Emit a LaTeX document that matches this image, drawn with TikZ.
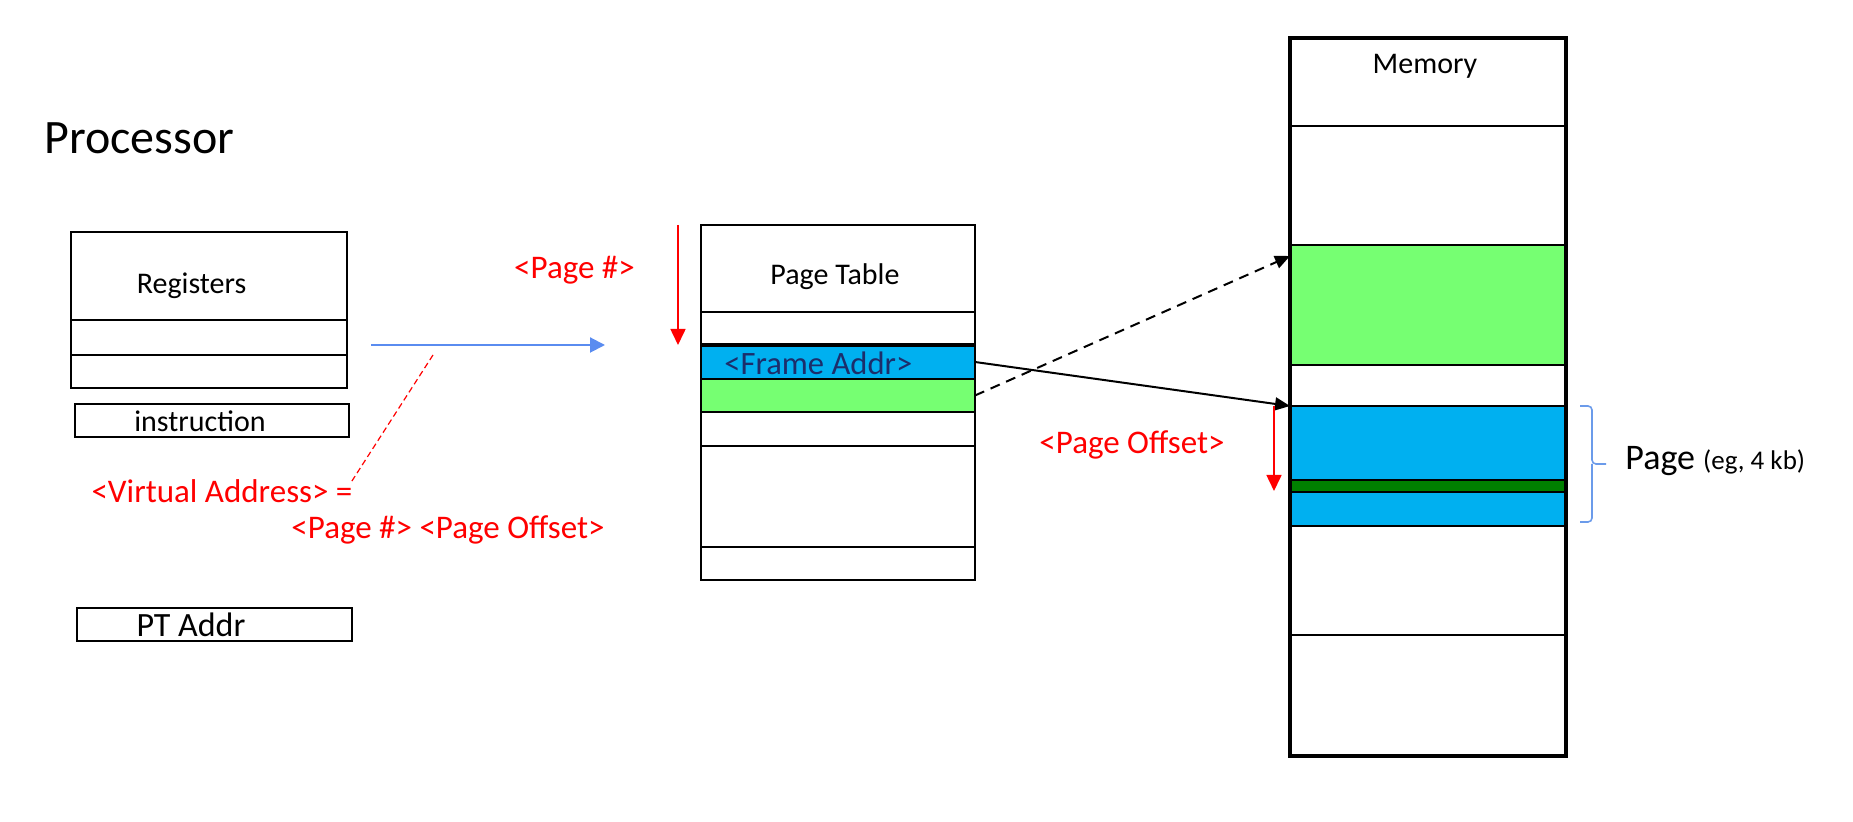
\documentclass[tikz,border=0pt]{standalone}
\usepackage{fontspec}
\setmainfont{Carlito}
\usetikzlibrary{arrows.meta}
\definecolor{cellgreen}{HTML}{76FF72}
\definecolor{cellblue}{HTML}{00B0F0}
\definecolor{darkband}{HTML}{008000}
\definecolor{navytext}{HTML}{1C2E6B}
\definecolor{flowblue}{HTML}{5A8CF0}
\definecolor{braceblue}{HTML}{6B9BEA}
\definecolor{hotred}{HTML}{FF0000}
\begin{document}
\begin{tikzpicture}[x=0.5pt,y=-0.5pt,
  cell/.style={draw, line width=1.4pt, inner sep=0pt, outer sep=0pt},
  lbl/.style={inner sep=0pt, font=\fontsize{15}{18}\selectfont},
  redlbl/.style={inner sep=0pt, font=\fontsize{16.5}{20}\selectfont, text=hotred},
  redarrow/.style={draw=hotred, line width=0.8pt, -{Triangle[length=8pt,width=7.5pt]}},
  linkarrow/.style={line width=1pt, -{Triangle[length=7.5pt,width=6.5pt]}}]
\useasboundingbox (0,0) rectangle (1853,822);

% processor side
\node[inner sep=0pt, anchor=west, font=\fontsize{24}{28}\selectfont] (proc) at (44,138) {Processor};

\node[cell, minimum width=138pt, minimum height=44pt]   (reg0) at (209,276) {};
\node[cell, minimum width=138pt, minimum height=17.5pt] (reg1) at (209,337.5) {};
\node[cell, minimum width=138pt, minimum height=16.5pt] (reg2) at (209,371.5) {};
\node[lbl] (regtxt) at (191.5,286) {Registers};

\node[cell, minimum width=137pt, minimum height=16.5pt] (instr) at (212,420.5) {};
\node[lbl] (instrtxt) at (200,421) {instruction};

\node[cell, minimum width=137.5pt, minimum height=16.5pt] (ptaddr) at (214.5,624.5) {};
\node[lbl, font=\fontsize{17}{20}\selectfont] (ptaddrtxt) at (191,625) {PT Addr};

% virtual address
\coordinate (vastart) at (371,345);
\coordinate (vaend) at (605,345);
\draw[flowblue, line width=1pt, -{Triangle[length=7.5pt,width=7.5pt]}] (vastart) -- (vaend);
\coordinate (vaknee) at (433,355);
\node[redlbl] (vatxt) at (222,491) {<Virtual Address> =};
\node[redlbl] (vasplit) at (448,530) {<Page \#> <Page Offset>};
\draw[hotred, line width=0.6pt, dash pattern=on 3pt off 1.8pt] (vaknee) -- (350,484);

% page table
\node[cell, minimum width=137pt, minimum height=43.5pt] (pt0) at (838,268.5) {};
\node[cell, minimum width=137pt, minimum height=16.5pt] (pt1) at (838,328.5) {};
\node[cell, fill=cellblue, minimum width=137pt, minimum height=17pt] (ptf) at (838,362) {};
\node[cell, fill=cellgreen, minimum width=137pt, minimum height=16.5pt] (ptg) at (838,395.5) {};
\node[cell, minimum width=137pt, minimum height=17pt] (pt4) at (838,429) {};
\node[cell, minimum width=137pt, minimum height=50.5pt] (pt5) at (838,496.5) {};
\node[cell, minimum width=137pt, minimum height=16.5pt] (pt6) at (838,563.5) {};
\draw[line width=2.2pt] (ptf.north west) -- (ptf.north east);
\node[lbl] (pttxt) at (835,277) {Page Table};
\node[lbl, anchor=west, text=navytext, font=\fontsize{16.3}{20}\selectfont] (frametxt) at (724,363) {<Frame Addr>};

\node[redlbl] (pagenum) at (574.5,270) {<Page \#>};
\coordinate (pnstart) at (678,225);
\coordinate (pnend) at (678,345);
\draw[redarrow] (pnstart) -- (pnend);

% memory
\node[cell, minimum width=138pt, minimum height=44pt]   (m0) at (1428,82) {};
\node[cell, minimum width=138pt, minimum height=59.5pt] (m1) at (1428,185.5) {};
\node[cell, fill=cellgreen, minimum width=138pt, minimum height=60pt] (m2) at (1428,305) {};
\node[cell, minimum width=138pt, minimum height=20.5pt] (m3) at (1428,385.5) {};
\node[cell, fill=cellblue, minimum width=138pt, minimum height=37pt] (m4) at (1428,443) {};
\node[cell, fill=darkband, minimum width=138pt, minimum height=6pt] (m5) at (1428,486) {};
\node[cell, fill=cellblue, minimum width=138pt, minimum height=17pt] (m6) at (1428,509) {};
\node[cell, minimum width=138pt, minimum height=54.5pt] (m7) at (1428,580.5) {};
\node[cell, minimum width=138pt, minimum height=60.5pt] (m8) at (1428,695.5) {};
\draw[line width=1.8pt] (m0.north west) rectangle (m8.south east);
\node[lbl] (memtxt) at (1425,66.5) {Memory};

% page table entries pointing into memory
\coordinate (greenhit) at (1290,256);
\draw[linkarrow, dash pattern=on 5pt off 3.5pt] (ptg.east) -- (greenhit);
\draw[linkarrow] (ptf.east) -- (m4.north west);

% offset within the page
\node[redlbl] (offtxt) at (1132,445) {<Page Offset>};
\coordinate (offstart) at (1274,406);
\coordinate (offend) at (1274,491);
\draw[redarrow] (offstart) -- (offend);

% page extent brace
\coordinate (bracetip) at (1606,464);
\draw[braceblue, line width=0.8pt, rounded corners=2pt]
  (1580,406) -- (1592,406) -- (1592,464) -- (bracetip);
\draw[braceblue, line width=0.8pt, rounded corners=2pt]
  (1592,464) -- (1592,522) -- (1580,522);
\node[inner sep=0pt, anchor=west] (pagetxt) at (1625,461)
  {\fontsize{18}{22}\selectfont Page {\fontsize{13.5}{16}\selectfont (eg, 4 kb)}};
\end{tikzpicture}
\end{document}
